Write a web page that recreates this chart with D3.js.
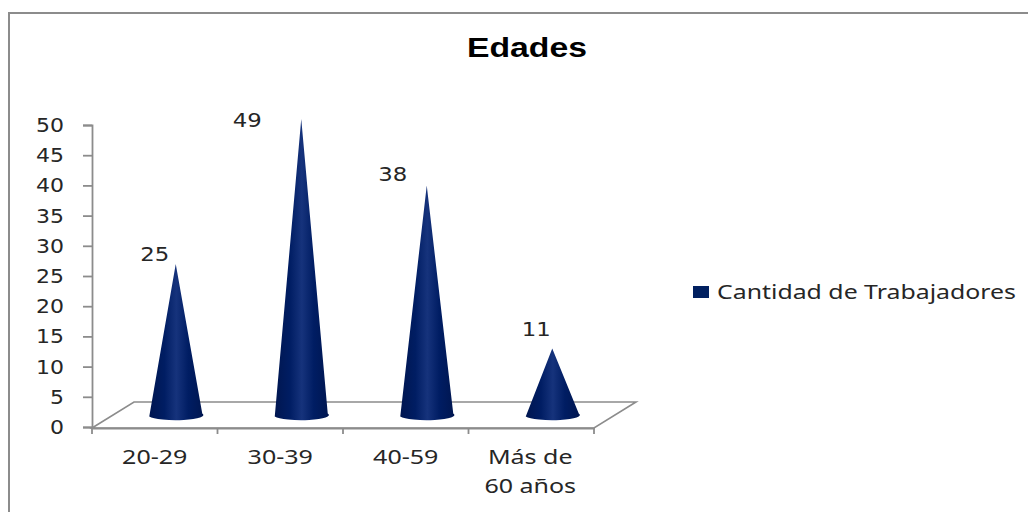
<!DOCTYPE html>
<html>
<head>
<meta charset="utf-8">
<script src="https://cdn.jsdelivr.net/npm/d3@7"></script>
<style>
  html, body { margin: 0; padding: 0; background: #fff; }
  svg { display: block; }
  text { font-family: "Noto Sans", sans-serif; fill: #262626; }
</style>
</head>
<body>
<svg></svg>
<script>
const categories = ["20-29", "30-39", "40-59", "Más de|60 años"];
const trabajadores = [25, 49, 38, 11];
const yTicks = [0, 5, 10, 15, 20, 25, 30, 35, 40, 45, 50];
const chartTitle = "Edades";
const seriesName = "Cantidad de Trabajadores";

const width = 1028;
const height = 512;
const gray = "#8c8c8c";
const navy = "#002060";

const svg = d3.select("svg")
              .attr("width", width)
              .attr("height", height);

// outer frame, only top and left are visible in the picture
svg.append("path")
   .attr("d", "M9,512V13H1028")
   .attr("fill", "none")
   .attr("stroke", gray)
   .attr("stroke-width", 2);

svg.append("text")
   .attr("x", 527)
   .attr("y", 57)
   .attr("text-anchor", "middle")
   .attr("textLength", 120)
   .attr("lengthAdjust", "spacingAndGlyphs")
   .style("font-family", "'Liberation Sans', sans-serif")
   .style("font-weight", "bold")
   .style("font-size", "28px")
   .style("fill", "#000")
   .text(chartTitle);

const x = d3.scaleBand().domain(categories).range([92, 594]);
const y = d3.scaleLinear().domain([0, 50]).range([427, 125]);

// the floor sits this far behind the axis plane
const depthX = 42;
const depthY = 25;
const coneX = (c) => x(c) + x.bandwidth() / 2 + depthX / 2;
const coneY = (v) => y(v) - 12;
const baseRx = 26.5;
const baseRy = 5;
const baseTilt = 1.5;

// floor
svg.append("path")
   .attr("d", `M${x.range()[0]},${y(0) + 1}L${x.range()[0] + depthX},${y(0) - depthY}` +
              `H${x.range()[1] + depthX}L${x.range()[1]},${y(0) + 1}Z`)
   .attr("fill", "none")
   .attr("stroke", gray)
   .attr("stroke-width", 1.6);

const yAxis = d3.axisLeft(y).tickValues(yTicks).tickSize(9).tickPadding(19);
const gy = svg.append("g").attr("transform", "translate(92,0)").call(yAxis);
gy.selectAll("path, line").attr("stroke", gray).attr("stroke-width", 1.8);
gy.selectAll("text").style("font-size", "20px").style("fill", "#262626")
  .style("font-family", "'DejaVu Sans', sans-serif")
  .attr("textLength", (d) => d < 10 ? 14 : 28)
  .attr("lengthAdjust", "spacingAndGlyphs");

const xAxis = d3.axisBottom(x).tickSize(0).tickFormat("");
const gx = svg.append("g").attr("transform", `translate(0,${y(0) + 1})`).call(xAxis);
gx.select("path").attr("stroke", gray).attr("stroke-width", 1.8);

// ticks fall between the categories
svg.append("g")
   .selectAll("line")
   .data(categories.concat("end"))
   .enter()
   .append("line")
   .attr("x1", (c, i) => i < categories.length ? x(c) : x.range()[1])
   .attr("x2", (c, i) => i < categories.length ? x(c) : x.range()[1])
   .attr("y1", y(0) + 1)
   .attr("y2", y(0) + 7)
   .attr("stroke", gray)
   .attr("stroke-width", 1.8);

// category labels, | marks a line break
const catLabel = svg.append("g")
   .selectAll("text")
   .data(categories)
   .enter()
   .append("text")
   .attr("text-anchor", "middle")
   .style("font-size", "20px");

catLabel.selectAll("tspan")
   .data((c) => c.split("|").map((t) => ({ t: t, c: c })))
   .enter()
   .append("tspan")
   .attr("x", (d) => x(d.c) + x.bandwidth() / 2 - (d.c.includes("|") ? 1 : 0))
   .attr("y", (d, i) => 464 + i * 29)
   .text((d) => d.t);

// the original text is stretched sideways, widen each line by the same ratio
catLabel.selectAll("tspan").each(function() {
  d3.select(this)
    .attr("textLength", this.getComputedTextLength() * 1.25)
    .attr("lengthAdjust", "spacingAndGlyphs");
});

// cone shading, dark at the sides and lighter in the middle
const grad = svg.append("defs").append("linearGradient").attr("id", "cone");
grad.selectAll("stop")
    .data([[0, "#001650"], [0.28, "#001d63"], [0.5, "#16337c"], [0.72, "#001d63"], [1, "#001650"]])
    .enter()
    .append("stop")
    .attr("offset", (d) => d[0])
    .attr("stop-color", (d) => d[1]);

svg.append("g")
   .selectAll("path")
   .data(trabajadores)
   .enter()
   .append("path")
   .attr("fill", "url(#cone)")
   .attr("d", (v, i) => {
     const cx = coneX(categories[i]);
     const by = coneY(0);
     return `M${cx},${coneY(v)}L${cx + baseRx},${by - baseTilt}` +
            `A${baseRx},${baseRy} 0 0 1 ${cx - baseRx},${by + baseTilt}Z`;
   });

// value labels were dragged by hand in the original, hence the nudges
const labelNudge = [[0, -15], [-33, -4], [-13, -16.5], [5, -24.5]];
svg.append("g")
   .selectAll("text")
   .data(trabajadores)
   .enter()
   .append("text")
   .attr("text-anchor", "middle")
   .attr("x", (v, i) => x(categories[i]) + x.bandwidth() / 2 + labelNudge[i][0])
   .attr("y", (v, i) => y(v) + labelNudge[i][1])
   .attr("textLength", 29)
   .attr("lengthAdjust", "spacingAndGlyphs")
   .style("font-size", "20px")
   .style("font-family", "'DejaVu Sans', sans-serif")
   .text((v) => v);

// legend
svg.append("rect")
   .attr("x", 693)
   .attr("y", 286)
   .attr("width", 16)
   .attr("height", 12)
   .attr("fill", navy);

svg.append("text")
   .attr("x", 717)
   .attr("y", 299)
   .style("font-size", "20px")
   .attr("textLength", 299)
   .attr("lengthAdjust", "spacingAndGlyphs")
   .text(seriesName);
</script>
</body>
</html>
